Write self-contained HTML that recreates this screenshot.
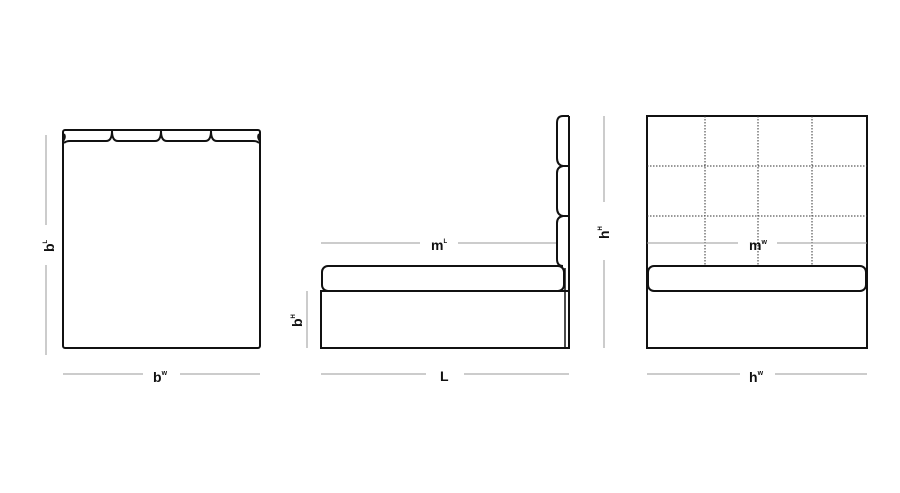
<!DOCTYPE html>
<html><head><meta charset="utf-8"><style>
html,body{margin:0;padding:0;background:#fff;}
svg{display:block;}
text{font-family:"Liberation Sans",sans-serif;font-weight:bold;fill:#111;}
</style></head><body>
<svg width="900" height="493" viewBox="0 0 900 493">
<g fill="none" stroke="#111" stroke-width="2">
  <!-- left view -->
  <rect x="63" y="130" width="197" height="218" rx="2"/>
  <path d="M63 141 Q66 137 64 134 M260 141 Q257 137 259 134"/>
  <path d="M64 143 Q66 141 70 141 H106 Q112 141 112 131 Q112 141 118 141 H155 Q161 141 161 131 Q161 141 167 141 H205 Q211 141 211 131 Q211 141 217 141 H253 Q257 141 259 143"/>
  <!-- middle view -->
  <rect x="321" y="291" width="248" height="57"/>
  <rect x="322" y="266" width="242" height="25" rx="6"/>
  <line x1="569" y1="116" x2="569" y2="348"/>
  <line x1="565" y1="268" x2="565" y2="348" stroke-width="1.5"/>
  <path d="M569 116 H563 Q557 116 557 123 V158 Q557 165 563 166 M569 166 H563 Q557 167 557 173 V208 Q557 215 563 216 M569 216 H563 Q557 217 557 223 V259 Q557 266 563 266"/>
  <!-- right view -->
  <rect x="647" y="116" width="220" height="232"/>
  <rect x="648" y="266" width="218" height="25" rx="6"/>
</g>
<g stroke="#333" stroke-width="1" stroke-dasharray="1.5,1.5" fill="none">
  <line x1="705" y1="116" x2="705" y2="266"/>
  <line x1="758" y1="116" x2="758" y2="266"/>
  <line x1="812" y1="116" x2="812" y2="266"/>
  <line x1="647" y1="166" x2="867" y2="166"/>
  <line x1="647" y1="216" x2="867" y2="216"/>
</g>
<g stroke="#999" stroke-width="1">
  <line x1="46" y1="135" x2="46" y2="225"/><line x1="46" y1="265" x2="46" y2="355"/>
  <line x1="63" y1="374" x2="143" y2="374"/><line x1="180" y1="374" x2="260" y2="374"/>
  <line x1="321" y1="243" x2="420" y2="243"/><line x1="458" y1="243" x2="556" y2="243"/>
  <line x1="307" y1="291" x2="307" y2="348"/>
  <line x1="321" y1="374" x2="426" y2="374"/><line x1="464" y1="374" x2="569" y2="374"/>
  <line x1="647" y1="243" x2="738" y2="243"/><line x1="777" y1="243" x2="867" y2="243"/>
  <line x1="604" y1="116" x2="604" y2="202"/><line x1="604" y1="260" x2="604" y2="348"/>
  <line x1="647" y1="374" x2="740" y2="374"/><line x1="775" y1="374" x2="867" y2="374"/>
</g>
<text x="153" y="382" font-size="14">b<tspan font-size="7" dy="-7">w</tspan></text>
<text x="440" y="381" font-size="14">L</text>
<text x="431" y="250" font-size="14">m<tspan font-size="6" dy="-7">L</tspan></text>
<text x="749" y="250" font-size="14">m<tspan font-size="7" dy="-6">w</tspan></text>
<text x="749" y="382" font-size="14">h<tspan font-size="7" dy="-7">w</tspan></text>
<text transform="translate(54,252) rotate(-90)" font-size="14">b<tspan font-size="6" dy="-7">L</tspan></text>
<text transform="translate(302,327) rotate(-90)" font-size="14">b<tspan font-size="6" dy="-7">H</tspan></text>
<text transform="translate(609,239) rotate(-90)" font-size="14">h<tspan font-size="6" dy="-7">H</tspan></text>
</svg>
</body></html>
